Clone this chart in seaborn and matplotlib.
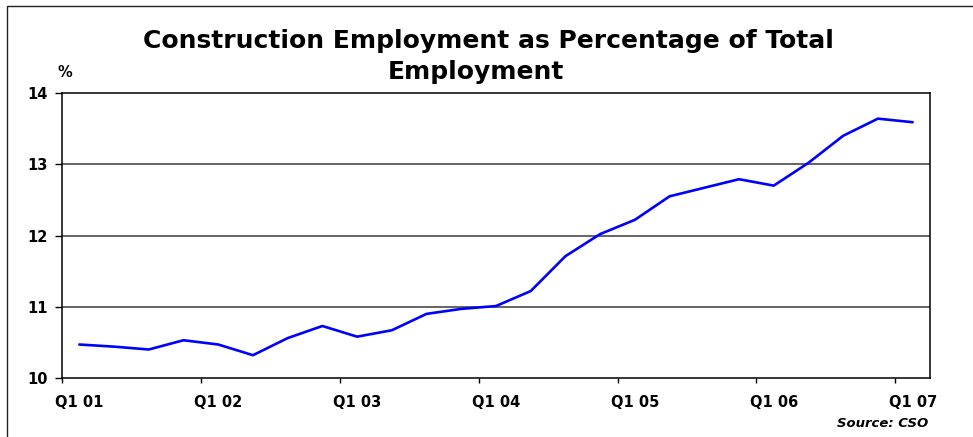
import matplotlib
matplotlib.use("Agg")
import matplotlib.pyplot as plt
import matplotlib.patches as mpatches
import seaborn as sns
import pandas as pd
import numpy as np

# Quarterly series, Q1 2001 .. Q1 2007
years = ["01", "02", "03", "04", "05", "06", "07"]
quarters = [f"Q{q} {y}" for y in years[:-1] for q in (1, 2, 3, 4)] + ["Q1 07"]
share_pct = [10.47, 10.44, 10.40, 10.53, 10.47, 10.32, 10.56, 10.73,
             10.58, 10.67, 10.90, 10.97, 11.01, 11.22, 11.71, 12.02,
             12.22, 12.55, 12.67, 12.79, 12.70, 13.02, 13.40, 13.64,
             13.59]
tick_labels = ["Q1 01", "Q1 02", "Q1 03", "Q1 04", "Q1 05", "Q1 06", "Q1 07"]
y_ticks = [10, 11, 12, 13, 14]

sns.set_style("white")
plt.rcParams["font.family"] = ["DejaVu Sans"]
plt.rcParams["text.color"] = "black"
plt.rcParams["xtick.color"] = "black"
plt.rcParams["ytick.color"] = "black"

W, H = 973, 437
fig = plt.figure(figsize=(W / 100, H / 100), dpi=100)
ax = fig.add_axes([62 / W, 1 - 378 / H, (930 - 62) / W, (378 - 93) / H])

df = pd.DataFrame({"quarter": quarters, "share": share_pct})
df["pos"] = np.arange(len(df)) + 0.5

sns.lineplot(data=df, x="pos", y="share", ax=ax, color="#0000ff",
             linewidth=1.9, legend=False)

n = len(quarters)
ax.set_xlim(0, n)
ax.set_ylim(10, 14)
ax.set_xlabel("")
ax.set_ylabel("")

# category-boundary ticks, labels centred on the Q1 categories
label_pos = [quarters.index(t) + 0.5 for t in tick_labels]
ax.set_xticks([p - 0.5 for p in label_pos])
ax.set_xticklabels([])
ax.set_xticks(label_pos, minor=True)
ax.set_xticklabels(tick_labels, minor=True, fontsize=10.5, fontweight="bold",
                   color="black")
ax.tick_params(axis="x", which="major", direction="out", length=3.6,
               width=1.0, color="black", bottom=True)
ax.tick_params(axis="x", which="minor", length=0, pad=12)

ax.set_yticks(y_ticks)
ax.set_yticklabels([str(v) for v in y_ticks], fontsize=10.5, fontweight="bold",
                   color="black")
ax.tick_params(axis="y", direction="out", length=5, width=1.0,
               color="black", pad=5.5, left=True)

for v in y_ticks[1:-1]:
    ax.axhline(v, color="#3a3a3a", linewidth=1.1, zorder=0)

for side in ("left", "right", "top", "bottom"):
    ax.spines[side].set_visible(True)
    ax.spines[side].set_color("black")
    ax.spines[side].set_linewidth(1.1)

# title, two lines
fig.text(488 / W, 1 - 48 / H, "Construction Employment as Percentage of Total",
         ha="center", va="baseline", fontsize=18, fontweight="bold",
         color="black")
fig.text(476 / W, 1 - 79 / H, "Employment",
         ha="center", va="baseline", fontsize=18, fontweight="bold",
         color="black")

fig.text(57 / W, 1 - 77 / H, "%", ha="left", va="baseline",
         fontsize=10.5, fontweight="bold", color="black")
fig.text(928 / W, 1 - 427 / H, "Source: CSO", ha="right", va="baseline",
         fontsize=9.5, fontweight="bold", fontstyle="italic", color="black")

# outer frame
frame = mpatches.Rectangle((7 / W, -0.2), 1.2, 1 - 6 / H + 0.2,
                           transform=fig.transFigure, fill=False,
                           edgecolor="#202020", linewidth=1.0, zorder=10)
fig.patches.append(frame)

fig.savefig("out.png", dpi=100)
